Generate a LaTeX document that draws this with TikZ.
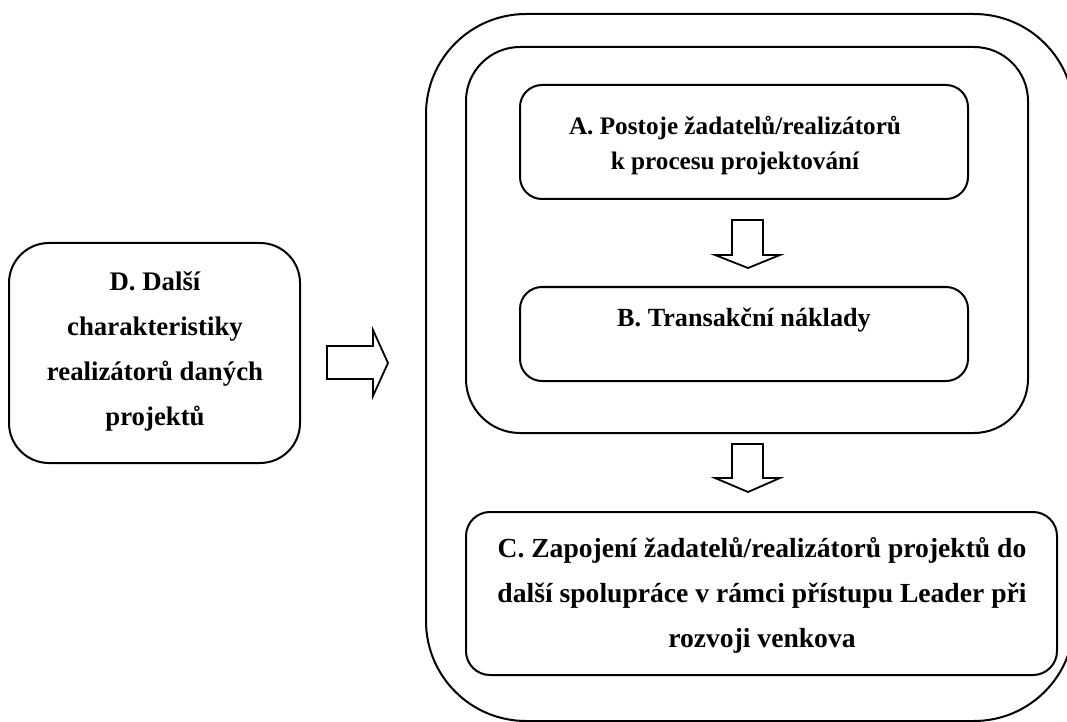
\documentclass[tikz,border=0pt]{standalone}
\usepackage{fontspec}
\setmainfont{Liberation Serif}
\usetikzlibrary{fit}
\begin{document}
\begin{tikzpicture}[x=0.5pt,y=-0.5pt,
  frame/.style={draw, inner sep=0pt, line width=1pt},
  txt/.style={align=center, inner sep=0pt},
  blockarrow/.style={draw, line width=0.9pt, line join=miter}]
\useasboundingbox (0,0) rectangle (1067,722);
% frames
\node[frame, rounded corners=50pt, fit={(426,14) (1074,721)}] (outer) {};
\node[frame, rounded corners=27pt, fit={(466,47) (1028,433)}] (middle) {};
\node[frame, rounded corners=11pt, fit={(520,85) (968,199)}] (boxA) {};
\node[frame, rounded corners=11pt, fit={(520,287) (968,381)}] (boxB) {};
\node[frame, rounded corners=12pt, fit={(466,512) (1057,675)}] (boxC) {};
\node[frame, rounded corners=20pt, fit={(9,243) (300,463)}] (boxD) {};
% texts
\node[txt, font=\bfseries\fontsize{12.6}{17.5}\selectfont] (tA) at (735,146) {A. Postoje žadatelů/realizátorů\\k procesu projektování};
\node[txt, anchor=base, font=\bfseries\fontsize{13.1}{22.5}\selectfont] (tB) at (744,327) {B. Transakční náklady};
\node[txt, font=\bfseries\fontsize{13.8}{22.5}\selectfont] (tC) at (762,595) {C. Zapojení žadatelů/realizátorů projektů do\\další spolupráce v rámci přístupu Leader při\\rozvoji venkova};
\node[txt, font=\bfseries\fontsize{13.4}{22.5}\selectfont] (tD) at (155,351) {D. Další\\charakteristiky\\realizátorů daných\\projektů};
% block arrows
\draw[blockarrow] (327,346) -- (373,346) -- (373,330) -- (388,363) -- (373,396) -- (373,379) -- (327,379) -- cycle;
\draw[blockarrow] (732,220) -- (763,220) -- (763,255) -- (780,255) -- (748,268) -- (715,255) -- (732,255) -- cycle;
\draw[blockarrow] (732,444) -- (763,444) -- (763,478) -- (780,478) -- (748,492) -- (715,478) -- (732,478) -- cycle;
\end{tikzpicture}
\end{document}
